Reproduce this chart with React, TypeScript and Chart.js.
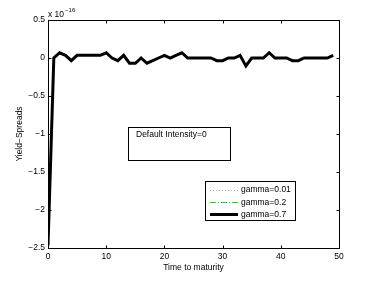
import React, { useEffect, useRef } from "react";
import { Chart, registerables } from "chart.js";

Chart.register(...registerables);

const maturity: number[] = Array.from({ length: 50 }, (_, i) => i);
// values in units of 1e-16
const spreads: number[] = [
  -2.47, 0, 0.069, 0.035, -0.035, 0.035, 0.035, 0.035, 0.035, 0.035,
  0.069, 0, -0.035, 0.035, -0.069, -0.069, 0, -0.069, -0.035, 0,
  0.035, 0, 0.035, 0.069, 0, 0, 0, 0, 0, -0.035,
  -0.035, 0, 0, 0.035, -0.104, 0, 0, 0, 0.069, 0,
  0, 0, -0.035, -0.035, 0, 0, 0, 0, 0, 0.035,
];
const seriesLabels: string[] = ["gamma=0.01", "gamma=0.2", "gamma=0.7"];
const xTicks: number[] = [0, 10, 20, 30, 40, 50];
const yTicks: number[] = [-2.5, -2, -1.5, -1, -0.5, 0, 0.5];
const annotationText = "Default Intensity=0";
const FONT = "Liberation Sans, Arial, Helvetica, sans-serif";

const fmt = (v: number) => (v < 0 ? "\u2212" + String(Math.abs(v)) : String(v));

export default function App() {
  const ref = useRef<HTMLCanvasElement | null>(null);
  useEffect(() => {
    document.body.style.margin = "0";
    const canvas = ref.current!;
    const pts = maturity.map((x, i) => ({ x, y: spreads[i] }));
    const styles = [
      { color: "#a8b0f0", width: 1, dash: [1, 2] },
      { color: "#4cb04c", width: 1, dash: [6, 2, 1, 2] },
      { color: "#000000", width: 3, dash: [] as number[] },
    ];
    const overlay = {
      id: "overlay",
      afterDraw(chart: any) {
        const ctx = chart.ctx as CanvasRenderingContext2D;
        const { left, right, top, bottom } = chart.chartArea;
        const xs = chart.scales.x;
        const ys = chart.scales.y;
        ctx.save();
        ctx.strokeStyle = "#000";
        ctx.lineWidth = 1;
        ctx.setLineDash([]);
        const L = Math.round(left) + 0.5, R = Math.round(right) + 0.5;
        const T = Math.round(top) + 0.5, B = Math.round(bottom) + 0.5;
        ctx.strokeRect(L, T, R - L, B - T);
        const tl = 3;
        ctx.beginPath();
        xTicks.forEach((v) => {
          const px = Math.round(xs.getPixelForValue(v)) + 0.5;
          ctx.moveTo(px, B); ctx.lineTo(px, B - tl);
          ctx.moveTo(px, T); ctx.lineTo(px, T + tl);
        });
        yTicks.forEach((v) => {
          const py = Math.round(ys.getPixelForValue(v)) + 0.5;
          ctx.moveTo(L, py); ctx.lineTo(L + tl, py);
          ctx.moveTo(R, py); ctx.lineTo(R - tl, py);
        });
        ctx.stroke();

        // exponent label
        ctx.fillStyle = "#000";
        ctx.textBaseline = "alphabetic";
        ctx.textAlign = "left";
        ctx.font = `8.5px ${FONT}`;
        ctx.fillText("x 10", 48, 17);
        const w = ctx.measureText("x 10").width;
        ctx.font = `6px ${FONT}`;
        ctx.fillText("\u221216", 48 + w + 1, 12);

        // annotation box
        ctx.strokeStyle = "#000";
        ctx.strokeRect(128.5, 127.5, 102, 33);
        ctx.font = `8.5px ${FONT}`;
        ctx.textBaseline = "middle";
        ctx.fillText(annotationText, 136, 135);

        // legend
        ctx.fillStyle = "#fff";
        ctx.fillRect(206, 181, 90, 40);
        ctx.strokeStyle = "#000";
        ctx.strokeRect(205.5, 181.5, 90, 39);
        const rows = [189.5, 202, 214];
        chart.data.datasets.forEach((ds: any, i: number) => {
          const st = styles[i];
          ctx.strokeStyle = st.color;
          ctx.lineWidth = st.width;
          ctx.setLineDash(st.dash);
          ctx.beginPath();
          ctx.moveTo(210, Math.round(rows[i]) + (st.width === 3 ? 0.5 : 0.5));
          ctx.lineTo(238, Math.round(rows[i]) + 0.5);
          ctx.stroke();
          ctx.setLineDash([]);
          ctx.fillStyle = "#000";
          ctx.fillText(ds.label, 241, rows[i] + 0.5);
        });
        ctx.restore();
      },
    };
    const chart = new Chart(canvas, {
      type: "line",
      data: {
        datasets: seriesLabels.map((label, i) => ({
          label,
          data: pts,
          borderColor: styles[i].color,
          borderWidth: styles[i].width,
          borderDash: styles[i].dash,
          pointRadius: 0,
          fill: false,
          tension: 0,
          order: 3 - i,
        })),
      },
      options: {
        animation: false,
        responsive: false,
        devicePixelRatio: 1,
        layout: { padding: { top: 20, right: 35, left: 0, bottom: 0 } },
        plugins: { legend: { display: false }, tooltip: { enabled: false } },
        scales: {
          x: {
            type: "linear",
            min: 0,
            max: 50,
            afterFit: (s: any) => { s.height = 33; },
            afterBuildTicks: (s: any) => { s.ticks = xTicks.map((v) => ({ value: v })); },
            grid: { display: false, drawTicks: false },
            border: { display: false },
            ticks: {
              color: "#000",
              font: { family: FONT, size: 8.5 },
              padding: 4,
              maxRotation: 0,
              autoSkip: false,
              callback: (v: any) => fmt(Number(v)),
            },
            title: {
              display: true,
              text: "Time to maturity",
              color: "#000",
              font: { family: FONT, size: 8.5 },
              padding: { top: 0, bottom: 8 },
            },
          },
          y: {
            type: "linear",
            min: -2.5,
            max: 0.5,
            afterFit: (s: any) => { s.width = 48; },
            afterBuildTicks: (s: any) => { s.ticks = yTicks.map((v) => ({ value: v })); },
            grid: { display: false, drawTicks: false },
            border: { display: false },
            ticks: {
              color: "#000",
              font: { family: FONT, size: 8.5 },
              padding: 3,
              autoSkip: false,
              callback: (v: any) => fmt(Number(v)),
            },
            title: {
              display: true,
              text: "Yield\u2212Spreads",
              color: "#000",
              font: { family: FONT, size: 8.5 },
              padding: { top: 15, bottom: 0 },
            },
          },
        },
      },
      plugins: [overlay],
    } as any);
    return () => chart.destroy();
  }, []);
  return (
    <canvas
      ref={ref}
      width={374}
      height={281}
      style={{ display: "block", width: 374, height: 281 }}
    />
  );
}
